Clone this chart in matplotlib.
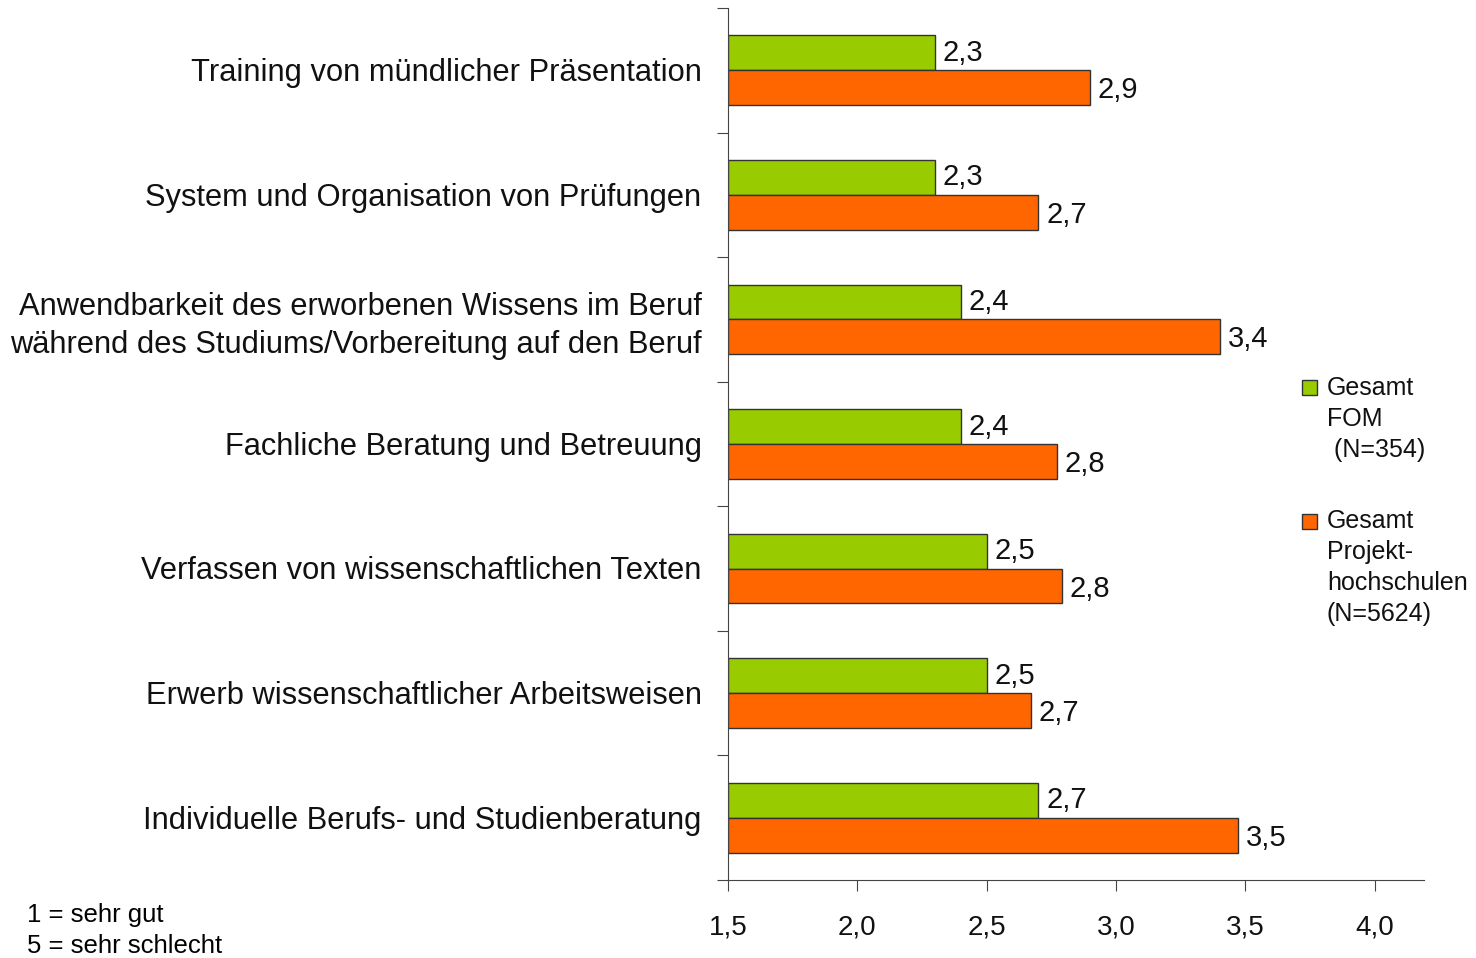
import matplotlib.pyplot as plt
from matplotlib.patches import Rectangle
import numpy as np

plt.rcParams['font.family'] = ['Liberation Sans', 'DejaVu Sans']

# Categories from top to bottom
categories = [
    "Training von mündlicher Präsentation",
    "System und Organisation von Prüfungen",
    "Anwendbarkeit des erworbenen Wissens im Beruf\nwährend des Studiums/Vorbereitung auf den Beruf",
    "Fachliche Beratung und Betreuung",
    "Verfassen von wissenschaftlichen Texten",
    "Erwerb wissenschaftlicher Arbeitsweisen",
    "Individuelle Berufs- und Studienberatung",
]
fom = [2.30, 2.30, 2.40, 2.40, 2.50, 2.50, 2.70]
projekt = [2.90, 2.70, 3.40, 2.77, 2.79, 2.67, 3.47]
series_names = ["Gesamt\nFOM\n (N=354)", "Gesamt\nProjekt-\nhochschulen\n(N=5624)"]
colors = ["#99CC00", "#FF6600"]
xticks = [1.5, 2.0, 2.5, 3.0, 3.5, 4.0]

fig = plt.figure(figsize=(14.76, 9.58), dpi=100)
ax = fig.add_axes([0.4932, 0.0814, 0.4716, 0.9102])

n = len(categories)
y = np.arange(n)
h = 0.28
x0 = 1.5
ax.barh(y - h / 2, np.array(fom) - x0, left=x0, height=h, color=colors[0],
        edgecolor="#333333", linewidth=1)
ax.barh(y + h / 2, np.array(projekt) - x0, left=x0, height=h, color=colors[1],
        edgecolor="#333333", linewidth=1)

for i in range(n):
    ax.text(fom[i] + 0.03, y[i] - h / 2, f"{fom[i]:.1f}".replace(".", ","),
            va="center", ha="left", fontsize=21, color="#111111")
    ax.text(projekt[i] + 0.03, y[i] + h / 2 + 0.02, f"{projekt[i]:.1f}".replace(".", ","),
            va="center", ha="left", fontsize=21, color="#111111")

ax.set_xlim(1.5, 4.19)
ax.set_ylim(n - 0.5, -0.5)
ax.set_xticks(xticks)
ax.set_xticklabels([f"{t:.1f}".replace(".", ",") for t in xticks], fontsize=20, color="#111111")

# category boundaries as ticks, labels in between
ax.set_yticks(np.arange(n + 1) - 0.5)
ax.set_yticklabels([])
ax.set_yticks(y - 0.005, minor=True)
ax.set_yticklabels(categories, minor=True, fontsize=22.2, color="#111111", linespacing=1.35)
ax.tick_params(axis="y", which="minor", length=0, pad=19)
ax.tick_params(axis="y", which="major", length=8, color="#444444")
ax.tick_params(axis="x", length=8, color="#444444", pad=17)

for s in ["top", "right"]:
    ax.spines[s].set_visible(False)
ax.spines["left"].set_color("#444444")
ax.spines["bottom"].set_color("#444444")

# legend
leg_top = [380, 514]
text_top = [385, 518.5]
for k in range(2):
    yy = 1 - leg_top[k] / 958
    fig.patches.append(Rectangle((1302 / 1476, yy - 15 / 958), 15 / 1476, 15 / 958,
                                 transform=fig.transFigure, facecolor=colors[k],
                                 edgecolor="#333333", linewidth=1))
    fig.text(1327 / 1476, 1 - (text_top[k] - 9) / 958, series_names[k], fontsize=18,
             va="top", ha="left", linespacing=1.36, color="#111111")

fig.text(27 / 1476, 1 - 915 / 958, "1 = sehr gut", fontsize=18.5, va="center")
fig.text(27 / 1476, 1 - 946 / 958, "5 = sehr schlecht", fontsize=18.5, va="center")

fig.savefig("out.png", dpi=100)
